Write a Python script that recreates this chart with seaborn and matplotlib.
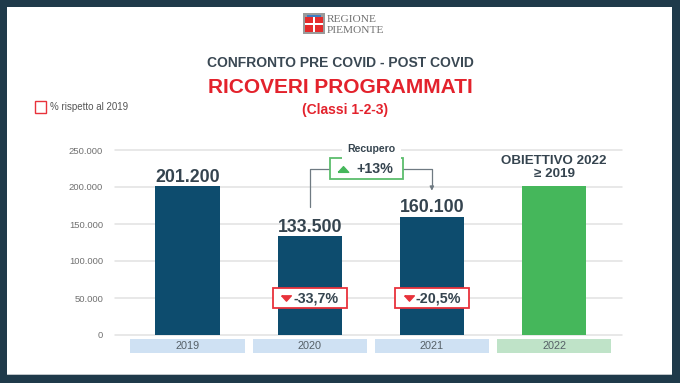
import matplotlib
matplotlib.use("Agg")
import matplotlib.pyplot as plt
from matplotlib.patches import Rectangle
import seaborn as sns
import pandas as pd

# ---------------- data ----------------
anni = ["2019", "2020", "2021", "2022"]
ricoveri = [201200, 133500, 160100, 201200]          # 2022 = obiettivo (livello 2019)
etichette_valori = ["201.200", "133.500", "160.100", ""]
var_vs_2019 = ["", "-33,7%", "-20,5%", ""]
recupero = "+13%"
y_ticks = [0, 50000, 100000, 150000, 200000, 250000]
y_tick_labels = ["0", "50.000", "100.000", "150.000", "200.000", "250.000"]

# ---------------- style ----------------
sns.set_theme(style="white")
plt.rcParams["font.family"] = ["Liberation Sans", "DejaVu Sans"]

NAVY = "#0d4c6e"
GREEN = "#45b75b"
RED = "#e8323b"
GREEN_BOX = "#5cbd6c"
DARK = "#35444f"
GREY_TXT = "#707070"
BG = "#1f3a4a"
bar_colors = [NAVY, NAVY, NAVY, GREEN]
box_colors = ["#cfe1f3", "#cfe1f3", "#cfe1f3", "#bfe3c8"]

TRI_DOWN = [(-1, 0.55), (1, 0.55), (0, -0.55), (-1, 0.55)]
TRI_UP = [(-1, -0.55), (1, -0.55), (0, 0.55), (-1, -0.55)]

W, H = 680, 383
fig = plt.figure(figsize=(6.8, 3.83), dpi=100)
fig.patch.set_facecolor(BG)

# white panel
fig.add_artist(Rectangle((7 / W, (H - 374) / H), 665 / W, 367 / H,
                         transform=fig.transFigure, facecolor="white",
                         edgecolor="none", zorder=0))
fig.add_artist(Rectangle((7 / W, (H - 375) / H), 665 / W, 1.2 / H,
                         transform=fig.transFigure, facecolor="#bfc5c9",
                         edgecolor="none", zorder=0))

# ---------------- main axes ----------------
px_per_unit_y = 0.74 / 1000.0
ymax = 255000
ax_h_px = ymax * px_per_unit_y
ax = fig.add_axes([115 / W, (H - 335) / H, 507 / W, ax_h_px / H])
ax.set_facecolor("none")

df = pd.DataFrame({"anno": anni, "ricoveri": ricoveri})
sns.barplot(data=df, x="anno", y="ricoveri", hue="anno", palette=bar_colors,
            order=anni, hue_order=anni, width=0.525, saturation=1,
            errorbar=None, legend=False, linewidth=0, ax=ax, zorder=2)

ax.set_xlim(-0.593, 3.556)
ax.set_ylim(0, ymax)
ax.set_yticks(y_ticks)
ax.set_yticklabels(y_tick_labels, fontsize=6.8, color=GREY_TXT)
ax.tick_params(axis="y", length=0, pad=8.5)
ax.tick_params(axis="x", length=0, labelbottom=False)
ax.set_xlabel("")
ax.set_ylabel("")
for s in ax.spines.values():
    s.set_visible(False)
ax.yaxis.grid(True, color="#e2e2e2", linewidth=1.1)
ax.xaxis.grid(False)
ax.set_axisbelow(True)
for gl in ax.get_ygridlines():
    gl.set_clip_on(False)

# category boxes under the axis
for i, (a, c) in enumerate(zip(anni, box_colors)):
    ax.add_patch(Rectangle((i - 0.4675, -23900), 0.935, 18100, facecolor=c,
                           edgecolor="none", clip_on=False, zorder=2))
    ax.text(i, -14850, a, ha="center", va="center", fontsize=7.8,
            color="#555f66", clip_on=False)

# value labels
for i, (v, lab) in enumerate(zip(ricoveri, etichette_valori)):
    if lab:
        ax.annotate(lab, (i, v), xytext=(0, 3.1), textcoords="offset points",
                    ha="center", va="baseline", fontsize=12.8,
                    fontweight="bold", color=DARK)

# objective label
ax.text(3, 235500, "OBIETTIVO 2022", ha="center", va="center", fontsize=9.6,
        fontweight="bold", color=DARK)
ax.text(3, 217200, "≥ 2019", ha="center", va="center", fontsize=9.6,
        fontweight="bold", color=DARK,
        family=["Liberation Sans", "DejaVu Sans"])

# percentage boxes vs 2019
for i, lab in enumerate(var_vs_2019):
    if not lab:
        continue
    ax.add_patch(Rectangle((i - 0.303, 36100), 0.606, 27800, facecolor="white",
                           edgecolor=RED, linewidth=1.3, zorder=4))
    ax.plot([i - 0.19], [50300], marker=TRI_DOWN, color=RED, markersize=7,
            linestyle="none", zorder=5)
    ax.text(i - 0.13, 49900, lab, ha="left", va="center", fontsize=10.3,
            fontweight="bold", color=DARK, zorder=5)

# recovery box + connector
conn = "#6f7a82"
y_c = 224600
ax.plot([1.0, 1.0, 1.166], [173400, y_c, y_c], color=conn, lw=0.9,
        zorder=3, clip_on=False)
ax.plot([1.764, 2.0, 2.0], [y_c, y_c, 200000], color=conn, lw=0.9,
        zorder=3, clip_on=False)
ax.annotate("", xy=(2.0, 195000), xytext=(2.0, 201000),
            arrowprops=dict(arrowstyle="-|>", color=conn, lw=0.9,
                            mutation_scale=6, shrinkA=0, shrinkB=0))
ax.add_patch(Rectangle((1.166, y_c - 14200), 0.598, 28400, facecolor="white",
                       edgecolor=GREEN_BOX, linewidth=1.3, zorder=4,
                       clip_on=False))
ax.plot([1.273], [y_c + 400], marker=TRI_UP, color=GREEN, markersize=7.5,
        linestyle="none", zorder=5, clip_on=False)
ax.text(1.531, y_c - 500, recupero, ha="center", va="center", fontsize=10.3,
        fontweight="bold", color=DARK, zorder=5)
ax.text(1.507, 250800, "Recupero", ha="center", va="center", fontsize=7.6,
        fontweight="bold", color=DARK, zorder=5,
        bbox=dict(boxstyle="square,pad=0.55", facecolor="white",
                  edgecolor="none"))

# ---------------- titles ----------------
fig.text(340 / W, (H - 66.7) / H, "CONFRONTO PRE COVID - POST COVID",
         ha="center", va="baseline", fontsize=10, fontweight="bold",
         color="#3a4853")
fig.text(340 / W, (H - 93.3) / H, "RICOVERI PROGRAMMATI", ha="center",
         va="baseline", fontsize=15, fontweight="bold", color="#e3222c")
fig.text(345 / W, (H - 114) / H, "(Classi 1-2-3)", ha="center",
         va="baseline", fontsize=10, fontweight="bold", color="#e3222c")

# legend
fig.add_artist(Rectangle((34.5 / W, (H - 112.5) / H), 11.5 / W, 11.5 / H,
                         transform=fig.transFigure, facecolor="white",
                         edgecolor=RED, linewidth=1.0))
fig.text(50 / W, (H - 107) / H, "% rispetto al 2019", ha="left",
         va="center", fontsize=7, color="#555555")

# ---------------- logo ----------------
lax = fig.add_axes([303 / W, (H - 34) / H, 22 / W, 21.3 / H])
lax.set_xlim(0, 1)
lax.set_ylim(0, 1)
lax.axis("off")
lax.add_patch(Rectangle((0, 0), 1, 1, facecolor="#9a9a9a", edgecolor="none"))
lax.add_patch(Rectangle((0.1, 0.08), 0.8, 0.74, facecolor="white",
                        edgecolor="none"))
for (x0, y0) in [(0.1, 0.08), (0.56, 0.08), (0.1, 0.5), (0.56, 0.5)]:
    lax.add_patch(Rectangle((x0, y0), 0.34, 0.32, facecolor="#e52b2b",
                            edgecolor="none"))
lax.add_patch(Rectangle((0.2, 0.8), 0.6, 0.1, facecolor="#3d7cc2",
                        edgecolor="none"))
fig.text(327 / W, (H - 22) / H, "REGIONE", ha="left", va="baseline",
         fontsize=8.2, color="#707070", family=["Liberation Serif", "DejaVu Serif"])
fig.text(327 / W, (H - 33) / H, "PIEMONTE", ha="left", va="baseline",
         fontsize=8.2, color="#707070", family=["Liberation Serif", "DejaVu Serif"])

fig.savefig("out.png", dpi=100, facecolor=fig.get_facecolor())
